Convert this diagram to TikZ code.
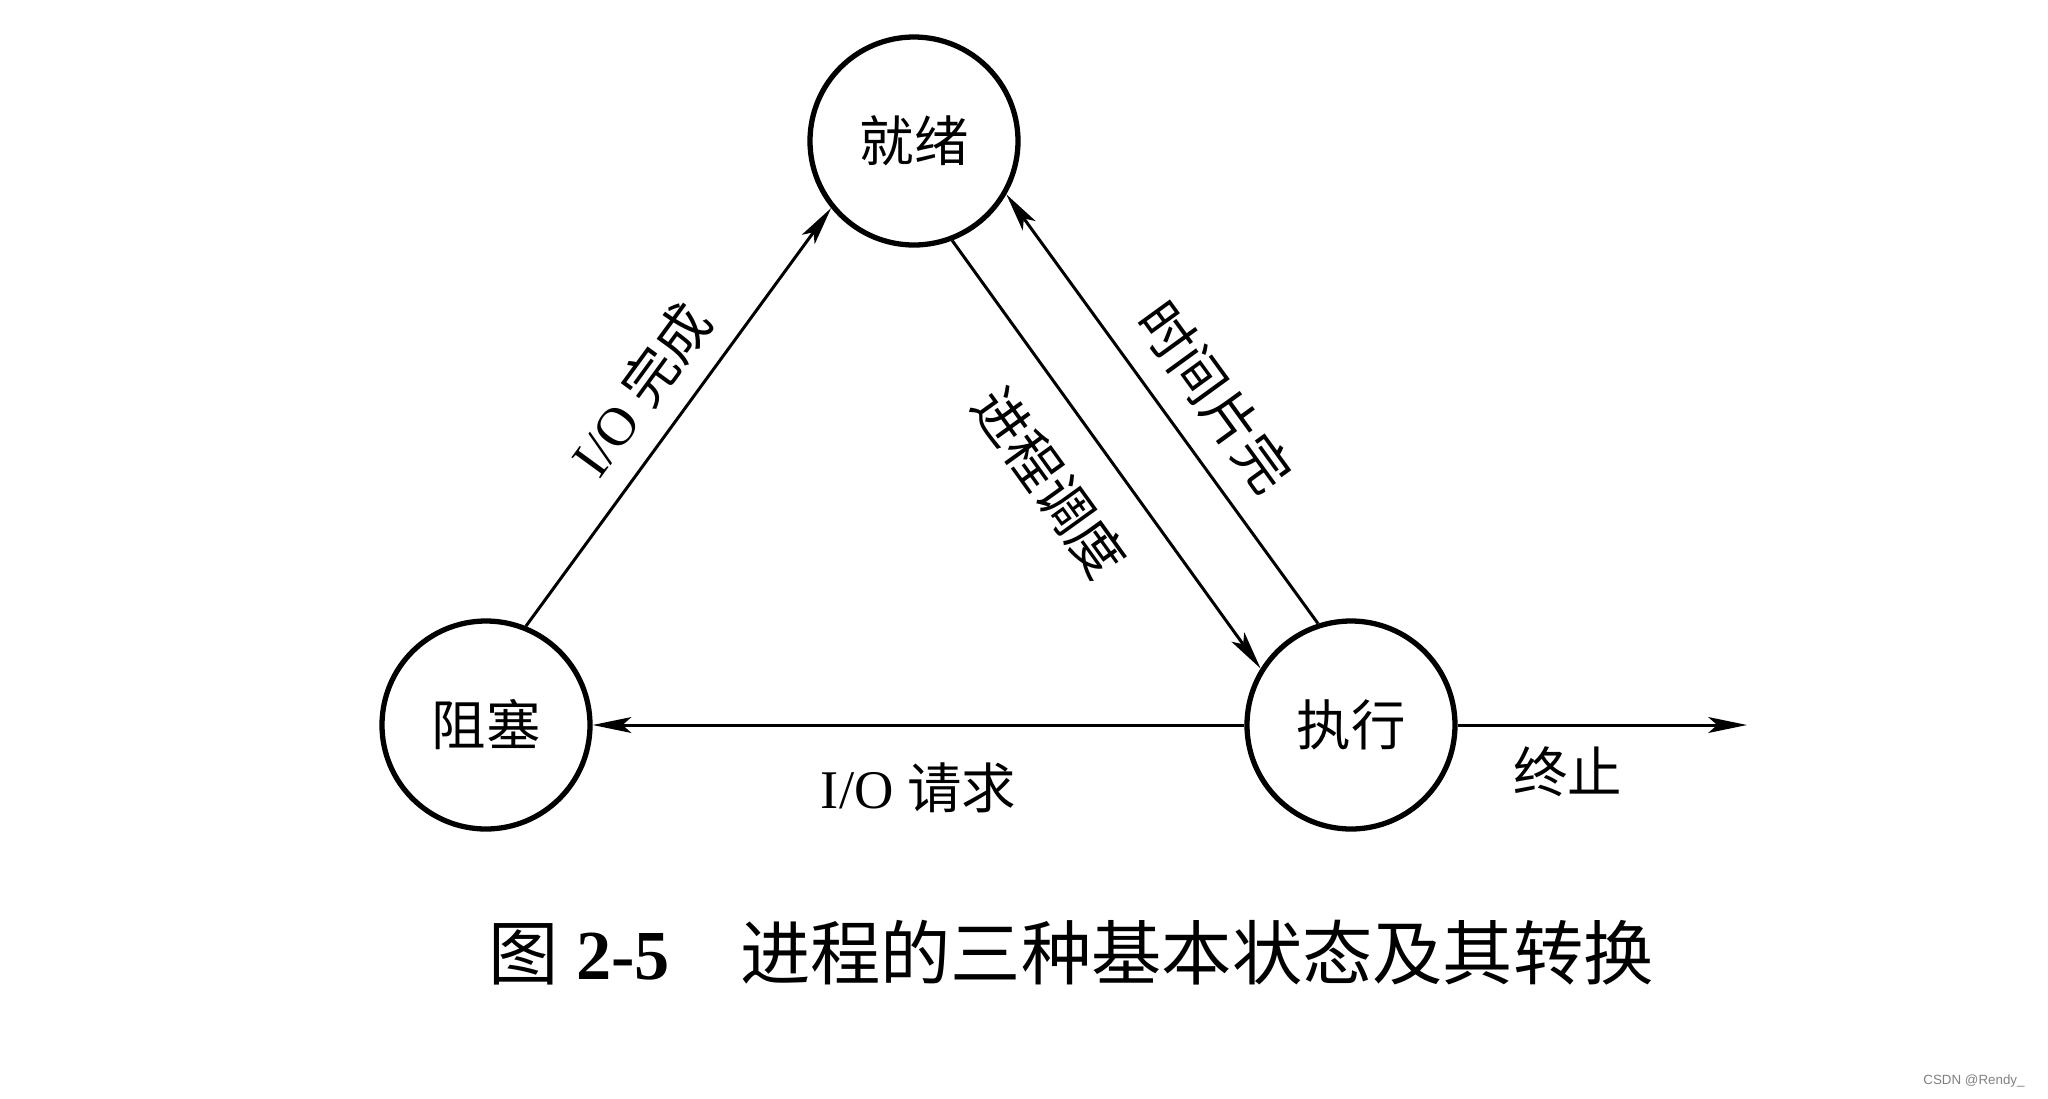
\documentclass[tikz,border=0pt]{standalone}
\usepackage{fontspec}
\setmainfont{Liberation Serif}
\newfontfamily\cjk{Noto Sans CJK SC}
\newfontfamily\wmfont{Liberation Sans}
\usetikzlibrary{arrows.meta,positioning}

\begin{document}
\begin{tikzpicture}[
    state/.style={circle,draw,line width=1.5pt,minimum size=2.08cm,inner sep=0pt,font=\fontsize{15.5}{18}\selectfont\cjk},
    trans/.style={line width=0.85pt,-{Stealth[length=11pt,width=4.5pt,inset=2.5pt]}},
    lbl/.style={font=\fontsize{15.5}{18}\selectfont}
  ]
  \useasboundingbox (0,0) rectangle (20.48,-10.99);
  % the three states
  \node[state](jiuxu)at(9.14,-1.41){就绪};
  \node[state](zuse)at(4.86,-7.25){阻塞};
  \node[state](zhixing)at(13.51,-7.25){执行};
  \coordinate(end)at(17.47,-7.25);
  % transitions
  \draw[trans](zuse.68)--(jiuxu.219) node[midway,sloped,lbl,yshift=4.7mm]{I/O {\cjk 完成}};
  \draw[trans](jiuxu.291)--(zhixing.148) node[pos=0.48,sloped,lbl,yshift=-6.2mm]{\cjk 进程调度};
  \draw[trans,{Stealth[length=11pt,width=4.5pt,inset=2.5pt]}-](jiuxu.330)--(zhixing.108) node[pos=0.54,sloped,lbl,yshift=5mm]{\cjk 时间片完};
  \draw[trans](zhixing)--(zuse) node[midway,lbl,yshift=-6.3mm]{I/O {\cjk 请求}};
  \draw[trans](zhixing)--(end) node[pos=0.38,lbl,yshift=-4.7mm]{\cjk 终止};
  % caption
  \node[font=\fontsize{20}{24}\selectfont](caption)at(10.71,-9.53){{\cjk 图} \textbf{2-5}\hspace{1em}{\cjk 进程的三种基本状态及其转换}};
  \node[font=\fontsize{3.8}{4.5}\selectfont\wmfont,text=gray,anchor=east](mark)at(20.37,-10.81){CSDN @Rendy\_};
\end{tikzpicture}
\end{document}
